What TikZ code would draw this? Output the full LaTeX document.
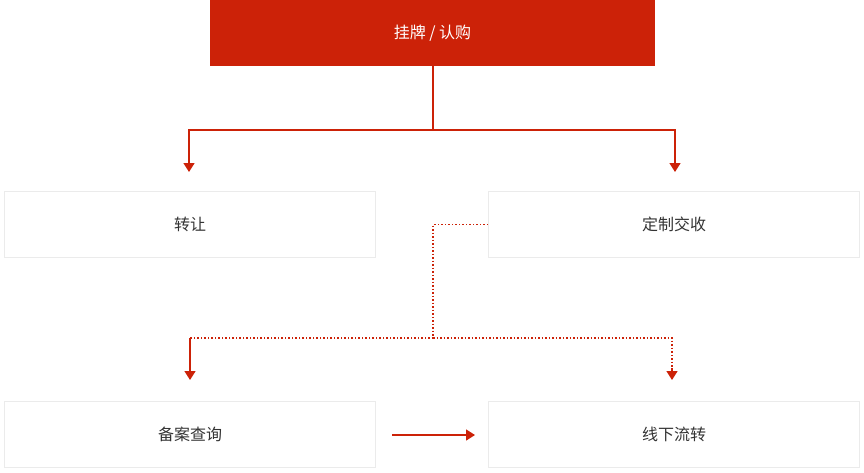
\documentclass[tikz,border=0pt]{standalone}
\usepackage{fontspec}
\setmainfont{Noto Sans CJK SC}
\usetikzlibrary{arrows.meta}
\definecolor{cred}{HTML}{CC2208}
\definecolor{cgray}{HTML}{333333}
\begin{document}
\begin{tikzpicture}[x=1pt,y=-1pt,
  box/.style={draw=black!8,line width=1pt,fill=white,minimum width=371pt,minimum height=66pt,font=\fontsize{16}{18}\selectfont,text=cgray},
  conn/.style={cred,line width=1.5pt},
  dotc/.style={cred,line width=1.5pt,dotted},
  tip/.style={-{Triangle[width=11pt,length=9pt]}}]
\useasboundingbox (0,0) rectangle (864,472);
\node[fill=cred,minimum width=445pt,minimum height=66pt,font=\fontsize{16}{18}\selectfont,text=white,inner sep=0] (top) at (432.5,33) {挂牌 / 认购};
\node[box] (zr) at (190,224.5) {转让};
\node[box] (dz) at (674,224.5) {定制交收};
\node[box] (ba) at (190,434.5) {备案查询};
\node[box] (xx) at (674,434.5) {线下流转};
\coordinate (j1) at (433,130);
\coordinate (j2) at (433,338);
\draw[conn] (top.south -| j1) -- (j1);
\draw[conn,tip] (j1) -| (189,172);
\draw[conn,tip] (j1) -| (675,172);
\draw[dotc] (dz.west) -- (433,224.5) -- (j2);
\draw[dotc] (j2) -- (190,338);
\draw[conn,tip] (190,338) -- (190,380);
\draw[dotc] (j2) -| (672,368);
\draw[conn,tip] (672,368) -- (672,380);
\draw[conn,tip] (392,435) -- (475,435);
\end{tikzpicture}
\end{document}
